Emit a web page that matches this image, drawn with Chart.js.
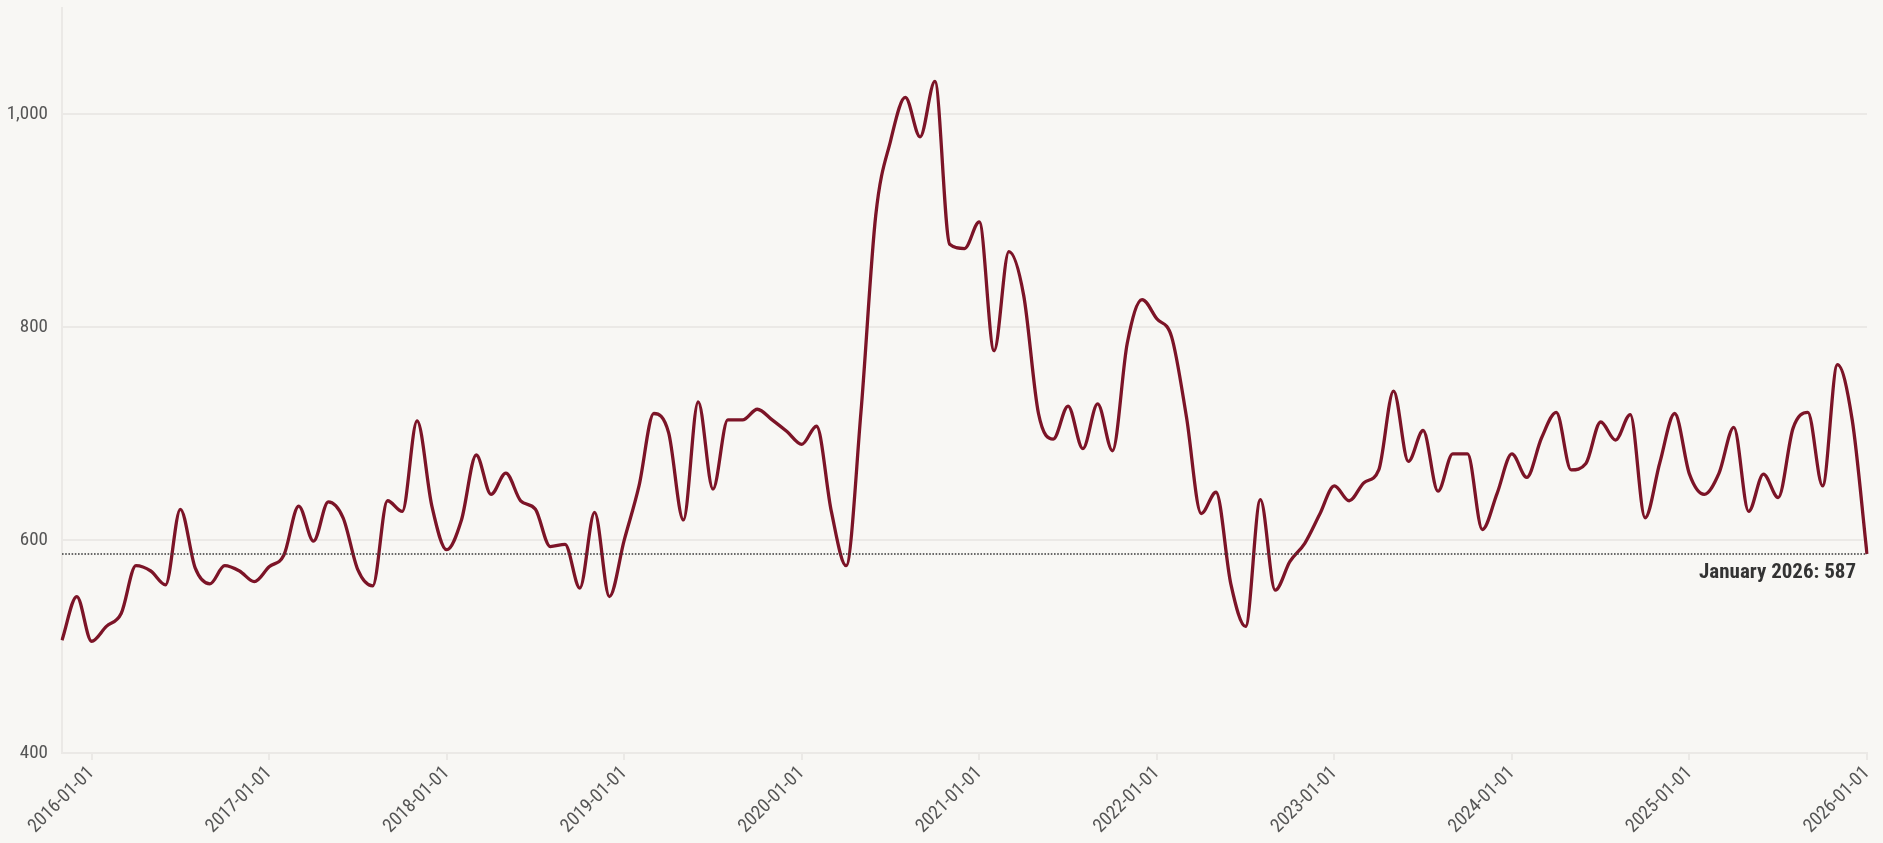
<!DOCTYPE html>
<html>
<head>
<meta charset="utf-8">
<script src="https://cdn.jsdelivr.net/npm/chart.js@4.4.1/dist/chart.umd.min.js"></script>
<style>
  html, body { margin: 0; padding: 0; background: #f8f7f4; }
  canvas { display: block; }
</style>
</head>
<body>
<canvas id="c" width="1883" height="843"></canvas>
<script>
// Monthly series, first month November 2015, last month January 2026
const startYear = 2015;
const startMonth = 11;
const values = [
  506, 547,                                                        // 2015-11, 2015-12
  505, 519, 531, 576, 571, 558, 629, 574, 559, 576, 571, 561,      // 2016
  575, 586, 632, 599, 636, 621, 572, 557, 637, 627, 712, 632,      // 2017
  591, 619, 680, 643, 663, 637, 629, 594, 596, 555, 626, 547,      // 2018
  600, 651, 719, 701, 619, 730, 648, 713, 713, 723, 713, 702,      // 2019
  690, 707, 627, 576, 720, 905, 975, 1016, 979, 1031, 878, 874,    // 2020
  899, 778, 871, 830, 719, 695, 726, 686, 728, 684, 785, 826,      // 2021
  808, 791, 716, 625, 645, 559, 519, 638, 553, 580, 597, 624,      // 2022
  651, 637, 654, 666, 740, 674, 703, 646, 681, 681, 610, 644,      // 2023
  681, 659, 696, 720, 666, 672, 711, 694, 718, 621, 673, 719,      // 2024
  662, 643, 663, 706, 627, 662, 640, 705, 720, 651, 765, 713,      // 2025
  587                                                              // 2026-01
];
const xTickLabels = ['2016-01-01','2017-01-01','2018-01-01','2019-01-01','2020-01-01',
                     '2021-01-01','2022-01-01','2023-01-01','2024-01-01','2025-01-01','2026-01-01'];
const yTickValues = [400, 600, 800, 1000];
const monthNames = ['January','February','March','April','May','June','July',
                    'August','September','October','November','December'];

// category labels (one per month)
const months = [];
for (let k = 0; k < values.length; k++) {
  const m0 = startMonth - 1 + k;
  const y = startYear + Math.floor(m0 / 12);
  const m = (m0 % 12) + 1;
  months.push(y + '-' + String(m).padStart(2, '0') + '-01');
}

const FONT = "'Roboto Condensed', 'Liberation Sans Narrow', 'DejaVu Sans Condensed', Roboto, sans-serif";
const LINE_COLOR = '#7c1427';
const GRID = '#ebe9e6';
const BG = '#f8f7f4';
const refValue = values[values.length - 1];
const lastLabel = months[months.length - 1];
const refText = monthNames[parseInt(lastLabel.slice(5, 7), 10) - 1] + ' ' + lastLabel.slice(0, 4) + ': ' + refValue;

const bgPlugin = {
  id: 'bg',
  beforeDraw(chart) {
    const ctx = chart.ctx;
    ctx.save();
    ctx.fillStyle = BG;
    ctx.fillRect(0, 0, chart.width, chart.height);
    ctx.restore();
  }
};

const refPlugin = {
  id: 'refline',
  afterDatasetsDraw(chart) {
    const ctx = chart.ctx;
    const area = chart.chartArea;
    const y = chart.scales.y.getPixelForValue(refValue);
    ctx.save();
    ctx.strokeStyle = '#3a3a3a';
    ctx.lineWidth = 1.6;
    ctx.setLineDash([1.6, 1.6]);
    ctx.beginPath();
    ctx.moveTo(area.left, y);
    ctx.lineTo(area.right, y);
    ctx.stroke();
    ctx.setLineDash([]);
    ctx.fillStyle = '#333333';
    ctx.font = "bold 21px " + FONT;
    ctx.textAlign = 'right';
    ctx.textBaseline = 'middle';
    ctx.fillText(refText, area.right - 11, y + 19);
    ctx.restore();
  }
};

new Chart(document.getElementById('c'), {
  type: 'line',
  data: {
    labels: months,
    datasets: [{
      data: values,
      borderColor: LINE_COLOR,
      borderWidth: 3.3,
      pointRadius: 0,
      fill: false,
      cubicInterpolationMode: 'monotone'
    }]
  },
  options: {
    responsive: false,
    animation: false,
    devicePixelRatio: 1,
    layout: { padding: { top: 8, right: 16, left: 0, bottom: 0 } },
    plugins: { legend: { display: false }, tooltip: { enabled: false } },
    scales: {
      x: {
        type: 'category',
        offset: false,
        grid: { drawOnChartArea: false, drawTicks: true, tickLength: 7, color: GRID, lineWidth: 2 },
        border: { display: true, color: GRID, width: 2 },
        ticks: {
          autoSkip: false,
          maxRotation: 45,
          minRotation: 45,
          padding: 2,
          color: '#555555',
          font: { family: FONT, size: 19 },
          callback: function (val, index) {
            const lab = months[index];
            return xTickLabels.includes(lab) ? lab : null;
          }
        },
        afterFit(scale) { scale.height = 90; scale.paddingLeft = 0; scale.paddingRight = 0; }
      },
      y: {
        min: 400,
        max: 1100,
        grid: { drawTicks: false, color: GRID, lineWidth: 2 },
        border: { display: true, color: GRID, width: 2 },
        ticks: {
          stepSize: 200,
          padding: 14,
          color: '#555555',
          font: { family: FONT, size: 19 },
          callback: function (v) {
            return yTickValues.includes(v) ? v.toLocaleString('en-US') : null;
          }
        },
        afterFit(scale) { scale.width = 62; scale.paddingTop = 0; scale.paddingBottom = 0; }
      }
    }
  },
  plugins: [bgPlugin, refPlugin]
});
</script>
</body>
</html>
